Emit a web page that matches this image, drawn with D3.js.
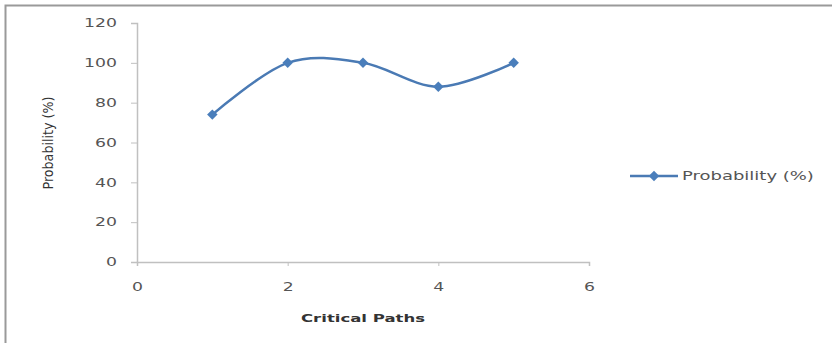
<!DOCTYPE html>
<html><head><meta charset="utf-8">
<script src="https://cdn.jsdelivr.net/npm/d3@7"></script>
<style>body{margin:0;background:#fff}svg{display:block}</style>
</head><body>
<script>
const xValues = [1, 2, 3, 4, 5];
const probability = [74, 100, 100, 88, 100];
const xTicks = [0, 2, 4, 6];
const yTicks = [0, 20, 40, 60, 80, 100, 120];
const seriesName = "Probability (%)";
const xTitle = "Critical Paths";
const yTitle = "Probability (%)";

const W = 832, H = 343;
const SX = 1.5; // horizontal stretch of text as in the reference
const svg = d3.select("body").append("svg").attr("width", W).attr("height", H);

// outer frame
svg.append("path").attr("d", `M5.5,${H} L5.5,5.5 L${W},5.5`)
  .attr("fill", "none").attr("stroke", "#9a9a9a").attr("stroke-width", 2);

const x = d3.scaleLinear().domain([0, 6]).range([137, 589]);
const y = d3.scaleLinear().domain([0, 120]).range([262, 23]);

const axisColor = "#c0c0c0";
const tickColor = "#555";
const fontF = "Verdana, 'DejaVu Sans', sans-serif";

// y axis
const gy = svg.append("g").attr("transform", `translate(${x(0)},0)`)
  .call(d3.axisLeft(y).tickValues(yTicks).tickSize(6).tickPadding(14).tickFormat(d3.format("d")));
gy.select(".domain").attr("stroke", axisColor).attr("stroke-width", 1.5);
gy.selectAll(".tick line").attr("stroke", axisColor);
gy.selectAll(".tick text").attr("fill", tickColor).attr("font-size", 11.5).attr("font-family", fontF)
  .attr("x", -20 / SX).attr("transform", `scale(${SX},1)`);

// x axis
const gx = svg.append("g").attr("transform", `translate(0,${y(0)})`)
  .call(d3.axisBottom(x).tickValues(xTicks).tickSize(4).tickPadding(17).tickFormat(d3.format("d")));
gx.select(".domain").attr("stroke", axisColor).attr("stroke-width", 1.5);
gx.selectAll(".tick line").attr("stroke", axisColor);
gx.selectAll(".tick text").attr("fill", tickColor).attr("font-size", 11.5).attr("font-family", fontF)
  .attr("transform", `scale(${SX},1)`);

// axis titles
svg.append("text").attr("transform", `translate(${(x(0) + x(6)) / 2},322) scale(${SX},1)`)
  .attr("text-anchor", "middle").attr("font-family", fontF).attr("font-weight", "bold")
  .attr("font-size", 11).attr("fill", "#333").text(xTitle);
svg.append("text").attr("transform", `translate(53,143) rotate(-90)`)
  .attr("text-anchor", "middle").attr("font-family", "'Liberation Sans Narrow','Arial Narrow','DejaVu Sans Condensed',sans-serif")
  .attr("font-size", 14).attr("fill", "#333").attr("textLength", 93).attr("lengthAdjust", "spacingAndGlyphs")
  .text(yTitle);

// line
const data = xValues.map((v, i) => ({x: v, y: probability[i]}));
const lineColor = "#4a7ab4";
const line = d3.line().x(d => x(d.x)).y(d => y(d.y)).curve(d3.curveCatmullRom.alpha(0));
svg.append("path").datum(data).attr("d", line)
  .attr("fill", "none").attr("stroke", lineColor).attr("stroke-width", 2.5);

const diamond = d3.symbol().type(d3.symbolDiamond2).size(70);
svg.selectAll(".pt").data(data).enter().append("path")
  .attr("transform", d => `translate(${x(d.x)},${y(d.y)})`)
  .attr("d", diamond).attr("fill", "#4a7ebb");

// legend
const ly = 176;
svg.append("line").attr("x1", 630).attr("x2", 678).attr("y1", ly).attr("y2", ly)
  .attr("stroke", lineColor).attr("stroke-width", 2.5);
svg.append("path").attr("transform", `translate(654,${ly})`).attr("d", diamond).attr("fill", "#4a7ebb");
svg.append("text").attr("transform", `translate(682,${ly + 4}) scale(${SX},1)`).attr("font-family", fontF)
  .attr("font-size", 12).attr("fill", tickColor).text(seriesName);
</script>
</body></html>
